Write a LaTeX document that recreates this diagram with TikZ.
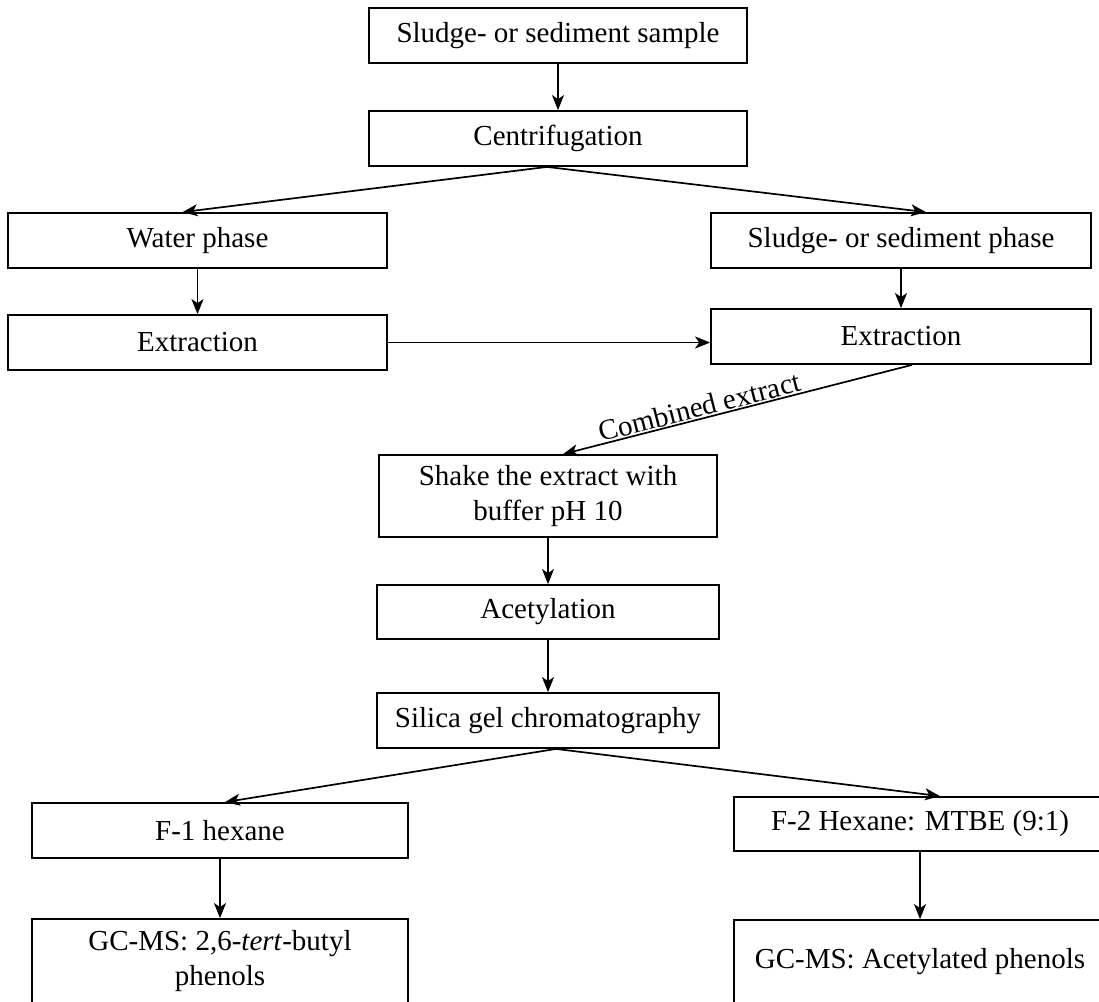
\documentclass[tikz,border=0pt]{standalone}
\usepackage{fontspec}
\setmainfont{Liberation Serif}
\usetikzlibrary{arrows.meta}
\begin{document}
\begin{tikzpicture}[x=1pt,y=-1pt,
  font=\fontsize{29}{35}\selectfont,
  box/.style={draw=black, line width=1.8pt, rectangle, inner sep=0pt, align=center, minimum width=#1},
  box/.default=378pt,
  arr/.style={line width=1.7pt, -{Stealth[length=15pt,width=12pt,inset=4pt]}}]
\useasboundingbox (0,0) rectangle (1099,1001);
\node[box=378pt, minimum height=55pt] (sample) at (558,35.5) {Sludge- or sediment sample};
\node[box=378pt, minimum height=55pt] (centr) at (558,138.5) {Centrifugation};
\node[box=379pt, minimum height=55pt] (water) at (197.5,240.5) {Water phase};
\node[box=380pt, minimum height=55pt] (sphase) at (901,240.5) {Sludge- or sediment phase};
\node[box=379pt, minimum height=55pt] (extL) at (197.5,342.5) {Extraction};
\node[box=380pt, minimum height=55pt] (extR) at (901,336.5) {Extraction};
\node[box=338pt, minimum height=82pt] (shake) at (548,496) {Shake the extract with\\buffer pH 10};
\node[box=342pt, minimum height=54pt] (acet) at (548,612) {Acetylation};
\node[box=342pt, minimum height=55pt] (silica) at (548,720.5) {Silica gel chromatography};
\node[box=376pt, minimum height=55pt] (f1) at (220,830.5) {F-1 hexane};
\node[box=372pt, minimum height=54pt] (f2) at (920,824) {F-2 Hexane: MTBE (9:1)};
\node[box=376pt, minimum height=84pt] (gcl) at (220,961) {GC-MS: 2,6-\textit{tert}-butyl\\phenols};
\node[box=372pt, minimum height=83pt] (gcr) at (920,961.5) {GC-MS: Acetylated phenols};

\draw[arr] (sample.south) -- (centr.north);
\draw[arr] ([xshift=-11pt]centr.south) -- ([xshift=-15pt]water.north);
\draw[arr] ([xshift=-11pt]centr.south) -- ([xshift=25pt]sphase.north);
\draw[arr] (water.south) -- (extL.north);
\draw[arr] (sphase.south) -- (extR.north);
\draw[arr] (extL.east) -- (extL.east -| extR.west);
\draw[arr] ([xshift=11pt]extR.south) -- node[pos=0.6, sloped, above, inner sep=1pt] {Combined extract} ([xshift=15pt]shake.north);
\draw[arr] (shake.south) -- (acet.north);
\draw[arr] (acet.south) -- (silica.north);
\draw[arr] ([xshift=8pt]silica.south) -- ([xshift=5pt]f1.north);
\draw[arr] ([xshift=8pt]silica.south) -- ([xshift=20pt]f2.north);
\draw[arr] (f1.south) -- (gcl.north);
\draw[arr] (f2.south) -- (gcr.north);
\end{tikzpicture}
\end{document}
